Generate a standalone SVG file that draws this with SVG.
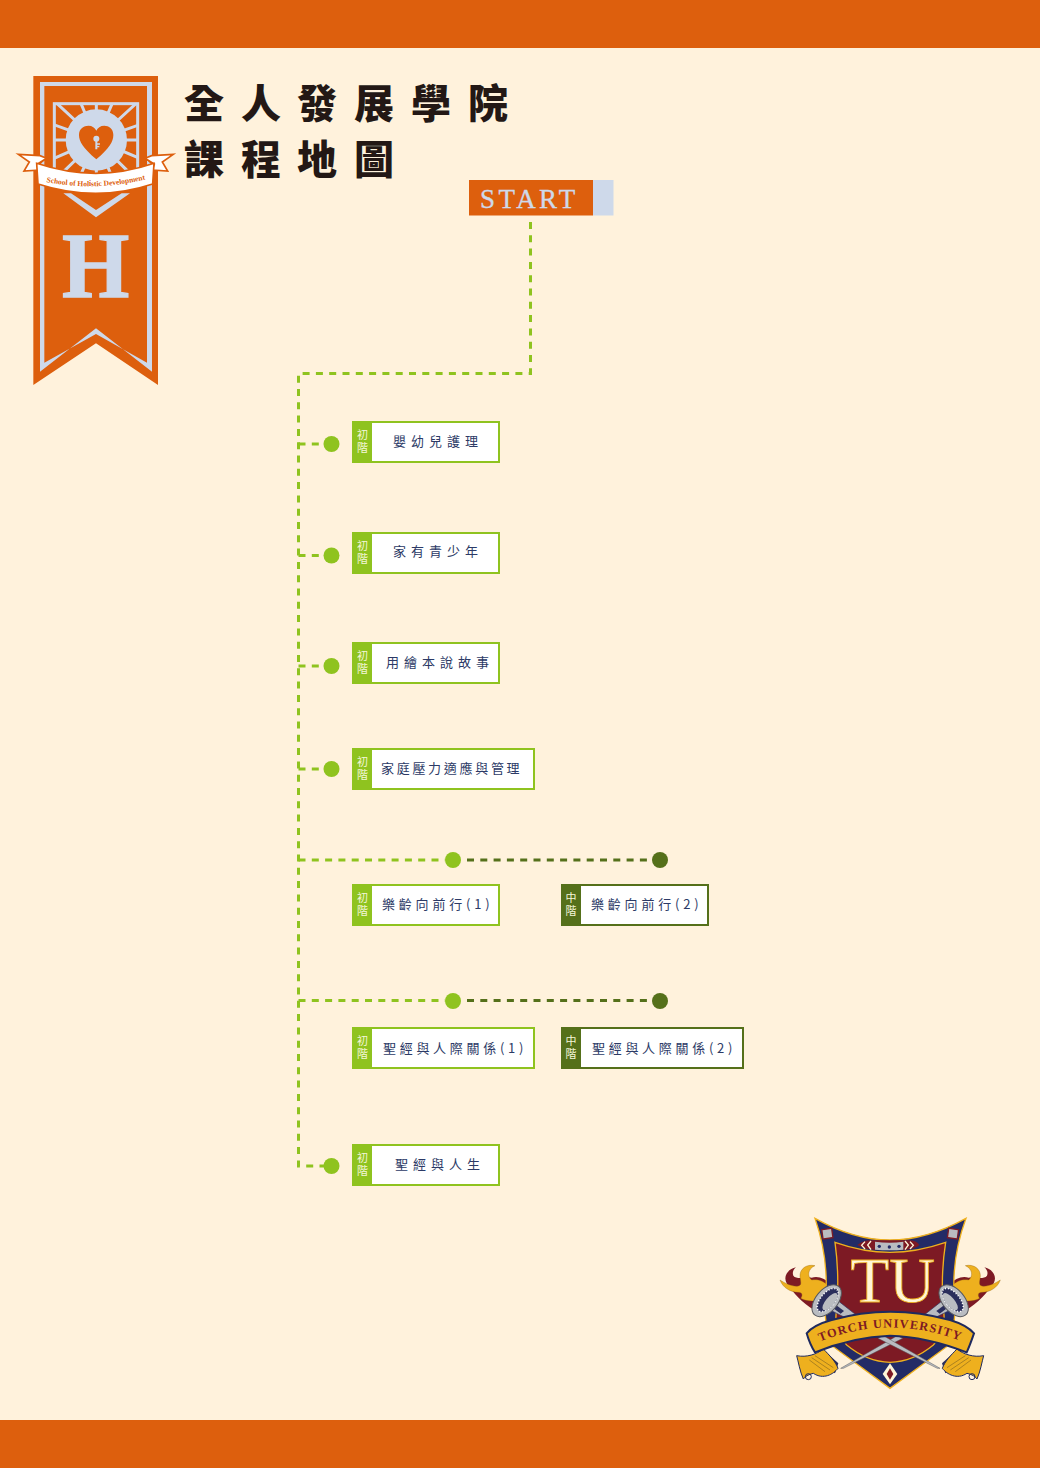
<svg xmlns="http://www.w3.org/2000/svg" xmlns:xlink="http://www.w3.org/1999/xlink" width="1040" height="1468" viewBox="0 0 1040 1468">
<style>
.o{fill:#dd5f0d}.l{fill:#ced9ea}
.title{font-family:"Noto Sans CJK TC","Noto Sans CJK JP",sans-serif;font-weight:900;font-size:40px;fill:#231815}
.lbl{font-family:"Noto Sans CJK TC","Noto Sans CJK JP",sans-serif;font-size:13px;fill:#2c3a66;letter-spacing:5px}
.tab{font-family:"Noto Sans CJK TC","Noto Sans CJK JP",sans-serif;font-size:11px;fill:#f4f6d8;writing-mode:vertical-rl;letter-spacing:2px}
.boxA{fill:#fff;stroke:#8fc31f;stroke-width:2}.boxB{fill:#fff;stroke:#55701a;stroke-width:2}
.tabA{fill:#8fc31f}.tabB{fill:#55701a}
.dA{fill:none;stroke:#8fc31f;stroke-width:3;stroke-dasharray:7 6.3}
.dB{fill:none;stroke:#55701a;stroke-width:3;stroke-dasharray:7 6.3}
.ser{font-family:"Liberation Serif",serif}
</style>
<defs>
<clipPath id="sq"><rect x="163" y="131" width="250" height="220"/></clipPath>
<g id="flame">
<path d="M78,187C55,192 38,212 50,235C70,262 95,295 135,316L185,300L185,240C165,220 145,212 125,218C110,215 80,225 70,212C66,202 70,194 78,187Z" fill="#7d1a24"/>
<path d="M135,182C110,176 88,192 90,215C92,232 96,240 85,243C68,246 45,235 30,225C38,248 62,262 85,262C95,262 100,268 92,280C110,290 140,292 165,280L178,245C160,225 140,222 125,225C112,215 112,192 135,182Z" fill="#eeb01e" stroke="#8a5a10" stroke-width="1"/>
</g>
<g id="torch">
<path d="M205,288L256,328L226,338L186,318Z" fill="#b9bcc1" stroke="#2a2e5c" stroke-width="2"/>
<path d="M198,300L222,318L212,326L190,310Z" fill="#2a2e5c"/>
<ellipse cx="170" cy="287" rx="33" ry="56" transform="rotate(40 170 287)" fill="#b9bcc1" stroke="#55575c" stroke-width="3"/>
<ellipse cx="173" cy="285" rx="21" ry="42" transform="rotate(40 173 285)" fill="#2a2e5c"/>
<ellipse cx="173" cy="285" rx="21" ry="42" transform="rotate(40 173 285)" fill="none" stroke="#fff" stroke-width="5" stroke-dasharray="3 6"/>
<ellipse cx="180" cy="290" rx="13" ry="32" transform="rotate(40 180 290)" fill="#b9bcc1"/>
</g>
<g id="rtail">
<path d="M150,425L205,475L195,505L140,470Z" fill="#2a2e5c"/>
<path d="M80,452C110,458 140,448 160,432C178,450 197,470 204,490C190,508 160,525 130,505C115,508 105,515 100,522C90,500 85,470 80,452Z" fill="#eeb01e" stroke="#1f2a5e" stroke-width="3"/>
<path d="M125,458L180,495M135,452L190,488M118,465L165,500" stroke="#8a6a20" stroke-width="2" fill="none"/>
<circle cx="115" cy="515" r="9" fill="none" stroke="#1f2a5e" stroke-width="3"/>
</g>
<rect id="corner" x="157" y="72" width="30" height="28" fill="#b9bcc1" stroke="#7d1a24" stroke-width="4" transform="rotate(-8 172 86)"/>
</defs>
<rect id="bg" width="1040" height="1468" fill="#fff2dc"/>
<rect id="top-bar" class="o" width="1040" height="48"/>
<rect id="bottom-bar" class="o" y="1420" width="1040" height="48"/>

<g id="banner" transform="translate(0,60) scale(.33333)">
<polygon class="o" points="100,48 474,48 474,975 288,850 100,975"/>
<path class="l" fill-rule="evenodd" d="M120,66H456V935L288,805L120,935ZM133,78V908L288,822L441,908V78Z"/>
<g clip-path="url(#sq)" stroke="#ced9ea" stroke-width="9">
<path d="M289,240L289,100M289,240L350,100M289,240L420,120M289,240L430,190M289,240L430,240M289,240L430,300M289,240L400,350M289,240L340,360M289,240L289,370M289,240L235,360M289,240L175,350M289,240L150,300M289,240L150,240M289,240L150,190M289,240L165,125M289,240L230,100"/>
</g>
<rect x="163" y="131" width="250" height="220" fill="none" stroke="#ced9ea" stroke-width="9"/>
<circle class="l" cx="289" cy="240" r="92"/>
<path class="o" d="M289,298C250,265 237,245 237,225C237,205 252,197 265,197C277,197 285,203 289,212C293,203 301,197 313,197C326,197 340,205 340,225C340,245 328,265 289,298Z"/>
<circle class="l" cx="289" cy="236" r="9"/><path class="l" d="M286,240H292V250H300V254H292V258H298V262H292V268H286Z"/>
<polygon class="l" points="190,400 288,472 390,400 365,400 288,450 213,400"/>
<g id="tail">
<path d="M55,283L120,287L140,295L112,312L118,330L72,333L88,306Z" fill="#fff" stroke="#dd5f0d" stroke-width="5"/>
<path d="M112,312L140,295L118,316Z" fill="#dd5f0d"/>
</g>
<use xlink:href="#tail" href="#tail" transform="translate(575,0) scale(-1,1)"/>
<path d="M110,310Q288,370 462,310L458,372Q288,428 114,372Z" fill="#fff" stroke="#dd5f0d" stroke-width="5"/>
<path id="schoolArc" d="M139,366Q288,395 437,358" fill="none"/>
<text class="ser" font-size="22.500" font-weight="700" fill="#dd5f0d"><textPath href="#schoolArc" xlink:href="#schoolArc">School of Holistic Development</textPath></text>
<text class="ser l" x="186" y="710" font-size="282" font-weight="700" textLength="202" lengthAdjust="spacingAndGlyphs" stroke="#ced9ea" stroke-width="4">H</text>
</g>

<g id="title">
<text class="title" y="118" x="184 241 297 354 411 468">全人發展學院</text>
<text class="title" y="174" x="184 241 297 354">課程地圖</text>
</g>

<g id="connectors">
<path class="dA" d="M530.500,222V373.500H298.500V1166H324"/>
<path class="dA" d="M298.500,444H324M298.500,555.500H324M298.500,666H324M298.500,769H324M298.500,860H445M298.500,1000.500H445"/>
<path class="dB" d="M467,860H652M467,1000.500H652"/>
</g>

<g id="start">
<rect class="o" x="469" y="180" width="124" height="35.500"/>
<rect class="l" x="593" y="180" width="20.500" height="35.500"/>
<text class="ser l" x="480" y="207.500" font-size="27" letter-spacing="3.400" stroke="#ced9ea" stroke-width=".35">START</text>
</g>

<g id="dots">
<circle class="tabA" cx="331.500" cy="444" r="8"/><circle class="tabA" cx="331.500" cy="555.500" r="8"/><circle class="tabA" cx="331.500" cy="666" r="8"/><circle class="tabA" cx="331.500" cy="769" r="8"/>
<circle class="tabA" cx="453" cy="860" r="8"/><circle class="tabB" cx="660" cy="860" r="8"/>
<circle class="tabA" cx="453" cy="1001" r="8"/><circle class="tabB" cx="660" cy="1001" r="8"/>
<circle class="tabA" cx="331.500" cy="1166" r="8"/>
</g>

<g id="n1"><rect class="boxA" x="353" y="422" width="146" height="40"/><rect class="tabA" x="352" y="421" width="20" height="42"/><text class="tab" x="362.500" y="429.500">初階</text><text class="lbl" x="393" y="446">嬰幼兒護理</text></g>
<g id="n2"><rect class="boxA" x="353" y="533" width="146" height="40"/><rect class="tabA" x="352" y="532" width="20" height="42"/><text class="tab" x="362.500" y="540.500">初階</text><text class="lbl" x="393" y="556">家有青少年</text></g>
<g id="n3"><rect class="boxA" x="353" y="643" width="146" height="40"/><rect class="tabA" x="352" y="642" width="20" height="42"/><text class="tab" x="362.500" y="650.500">初階</text><text class="lbl" x="386" y="667">用繪本說故事</text></g>
<g id="n4"><rect class="boxA" x="353" y="749" width="181" height="40"/><rect class="tabA" x="352" y="748" width="20" height="42"/><text class="tab" x="362.500" y="756.500">初階</text><text class="lbl" x="381" y="773" style="letter-spacing:2.700px">家庭壓力適應與管理</text></g>
<g id="n5"><rect class="boxA" x="353" y="885" width="146" height="40"/><rect class="tabA" x="352" y="884" width="20" height="42"/><text class="tab" x="362.500" y="892.500">初階</text><text class="lbl" x="382" y="909" style="letter-spacing:3.800px">樂齡向前行(1)</text></g>
<g id="n6"><rect class="boxB" x="562" y="885" width="146" height="40"/><rect class="tabB" x="561" y="884" width="20" height="42"/><text class="tab" x="571" y="892.500">中階</text><text class="lbl" x="591" y="909" style="letter-spacing:3.800px">樂齡向前行(2)</text></g>
<g id="n7"><rect class="boxA" x="353" y="1028" width="181" height="40"/><rect class="tabA" x="352" y="1027" width="20" height="42"/><text class="tab" x="362.500" y="1035.500">初階</text><text class="lbl" x="383" y="1053" style="letter-spacing:3.700px">聖經與人際關係(1)</text></g>
<g id="n8"><rect class="boxB" x="562" y="1028" width="181" height="40"/><rect class="tabB" x="561" y="1027" width="20" height="42"/><text class="tab" x="571" y="1035.500">中階</text><text class="lbl" x="592" y="1053" style="letter-spacing:3.700px">聖經與人際關係(2)</text></g>
<g id="n9"><rect class="boxA" x="353" y="1145" width="146" height="40"/><rect class="tabA" x="352" y="1144" width="20" height="42"/><text class="tab" x="362.500" y="1152.500">初階</text><text class="lbl" x="395" y="1169">聖經與人生</text></g>

<g id="crest" transform="translate(770,1205) scale(.33333)">
<use href="#flame" xlink:href="#flame"/>
<use href="#flame" xlink:href="#flame" transform="translate(721,0) scale(-1,1)"/>
<path d="M135,40Q250,105 360,105Q470,105 588,40Q540,170 555,300Q555,380 530,425L360,550L190,425Q165,380 165,300Q180,170 135,40Z" fill="#232b66" stroke="#eeb01e" stroke-width="4"/>
<use href="#corner" xlink:href="#corner"/>
<use href="#corner" xlink:href="#corner" transform="translate(721,0) scale(-1,1)"/>
<path d="M195,112Q280,142 360,142Q440,142 527,112Q510,220 522,330Q525,385 490,420Q430,470 360,472Q290,470 230,420Q195,385 198,330Q210,220 195,112Z" fill="#7d1a24" stroke="#eeb01e" stroke-width="4"/>
<path d="M262,120Q280,104 310,106H410Q440,104 448,120Q440,130 410,134H310Q280,132 262,120Z" fill="#7d1a24"/>
<path d="M315,110Q360,116 400,110V134Q360,138 315,134Z" fill="#b9bcc1"/>
<circle cx="328" cy="124" r="5" fill="#232b66"/><circle cx="358" cy="126" r="5" fill="#232b66"/><circle cx="387" cy="124" r="5" fill="#232b66"/>
<path d="M285,110L275,121L285,132M303,108L293,120L303,134M420,110L430,121L420,132M405,108L415,120L405,134" fill="none" stroke="#fff6d8" stroke-width="4"/>
<text class="ser" x="368" y="292" font-size="190" text-anchor="middle" fill="#fff6d8" stroke="#eeb01e" stroke-width="2.500">TU</text>
<use href="#torch" xlink:href="#torch"/>
<use href="#torch" xlink:href="#torch" transform="translate(721,0) scale(-1,1)"/>
<use href="#rtail" xlink:href="#rtail"/>
<use href="#rtail" xlink:href="#rtail" transform="translate(721,0) scale(-1,1)"/>
<path d="M382,392L212,490L220,490L398,400Z" fill="#b9bcc1" stroke="#55575c" stroke-width="1.500"/>
<path d="M340,392L510,490L502,490L324,400Z" fill="#b9bcc1" stroke="#55575c" stroke-width="1.500"/>
<polygon points="360,475 382,507 360,538 338,507" fill="#fff6d8"/><polygon points="360,490 370,507 360,524 350,507" fill="#7d1a24"/>
<path d="M110,385Q130,360 185,345Q360,295 540,345Q590,360 612,385Q600,420 590,442Q470,395 360,392Q250,395 135,442Q120,420 110,385Z" fill="#eeb01e" stroke="#1f2a5e" stroke-width="6"/>
<path id="tuArc" d="M150,410Q360,325 578,410" fill="none"/>
<text class="ser" font-size="37" font-weight="700" fill="#7d1a24" letter-spacing="3.500"><textPath href="#tuArc" xlink:href="#tuArc">TORCH UNIVERSITY</textPath></text>
</g>
</svg>
